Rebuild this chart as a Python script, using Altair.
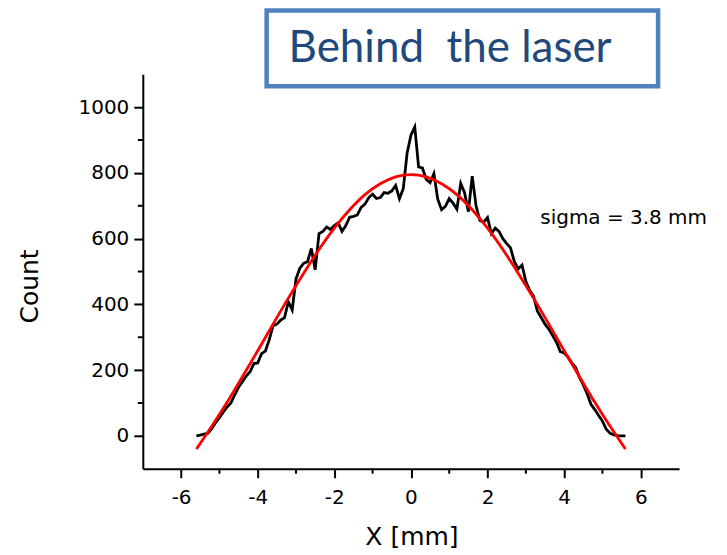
import altair as alt
import pandas as pd

# Measured profile (black)
black_x = [-5.6, -5.5, -5.4, -5.3, -5.2, -5.1, -5.0, -4.9, -4.8, -4.7, -4.6, -4.5, -4.4, -4.3, -4.2, -4.1,
           -4.0, -3.9, -3.8, -3.7, -3.6, -3.5, -3.4, -3.3, -3.2, -3.1, -3.0, -2.9, -2.8, -2.7, -2.6, -2.5,
           -2.4, -2.3, -2.2, -2.1, -2.0, -1.9, -1.8, -1.7, -1.6, -1.5, -1.4, -1.3, -1.2, -1.1, -1.0, -0.9,
           -0.8, -0.7, -0.6, -0.5, -0.4, -0.3, -0.2, -0.1, 0.0, 0.1, 0.2, 0.3, 0.4, 0.5, 0.6, 0.7, 0.8,
           0.9, 1.0, 1.1, 1.2, 1.3, 1.4, 1.5, 1.6, 1.7, 1.8, 1.9, 2.0, 2.1, 2.2, 2.3, 2.4, 2.5, 2.6, 2.7,
           2.8, 2.9, 3.0, 3.1, 3.2, 3.3, 3.4, 3.5, 3.6, 3.7, 3.8, 3.9, 4.0, 4.1, 4.2, 4.3, 4.4, 4.5, 4.6,
           4.7, 4.8, 4.9, 5.0, 5.1, 5.2, 5.3, 5.4, 5.5, 5.6]
black_y = [0, 2, 5, 8, 22, 40, 55, 72, 88, 100, 125, 148, 165, 182, 195, 220,
           222, 250, 258, 292, 335, 340, 352, 360, 408, 383, 478, 510, 525, 530, 570, 505,
           615, 622, 635, 628, 640, 648, 622, 640, 665, 668, 672, 695, 705, 725, 735, 722,
           725, 740, 738, 745, 762, 722, 752, 860, 915, 940, 818, 815, 780, 770, 798, 720, 688,
           698, 722, 708, 690, 768, 740, 682, 790, 700, 655, 650, 664, 615, 632, 622, 600, 585, 572, 530,
           508, 520, 470, 442, 425, 380, 360, 340, 325, 305, 285, 256, 252, 240, 222, 208, 178, 155, 128,
           96, 80, 62, 45, 20, 8, 3, 1, 0, 0]

# Fitted curve (red)
red_x = [-5.6, -5.2, -4.8, -4.4, -4.0, -3.6, -3.2, -2.8, -2.4, -2.0, -1.6, -1.2, -0.8, -0.4, 0.0,
         0.4, 0.8, 1.2, 1.6, 2.0, 2.4, 2.8, 3.2, 3.6, 4.0, 4.4, 4.8, 5.2, 5.6]
red_y = [-40, 29, 102, 180, 259, 340, 419, 495, 567, 632, 688, 734, 767, 788, 795,
         788, 767, 734, 688, 632, 567, 495, 419, 340, 259, 180, 102, 29, -40]

x_major = [-6, -4, -2, 0, 2, 4, 6]
x_minor = [-5, -3, -1, 1, 3, 5]
y_major = [0, 200, 400, 600, 800, 1000]
y_minor = [100, 300, 500, 700, 900]

title_text = ["Behind\u00a0 the laser"]
note_text = ["sigma = 3.8 mm"]

W, H = 537, 395
xs = alt.Scale(domain=[-7, 7], nice=False, zero=False)
ys = alt.Scale(domain=[-100, 1100], nice=False, zero=False)

df_black = pd.DataFrame({"x": black_x, "y": black_y})
df_red = pd.DataFrame({"x": red_x, "y": red_y})

black = alt.Chart(df_black).mark_line(color="black", strokeWidth=2.8, clip=False).encode(
    x=alt.X("x:Q", scale=xs, axis=alt.Axis(
        values=x_major, title="X [mm]", titleX=269, titleY=68, titleBaseline="middle",
        labelPadding=10, format="d", labelExpr="replace(datum.label, '\u2212', '-')")),
    y=alt.Y("y:Q", scale=ys, axis=alt.Axis(
        values=y_major, title="Count", titleX=-113, titleY=212, titleBaseline="middle",
        titleAngle=-90, labelPadding=5, format="d")),
)

red = alt.Chart(df_red).mark_line(color="#ff0000", strokeWidth=2.8, interpolate="monotone").encode(
    x=alt.X("x:Q", scale=xs), y=alt.Y("y:Q", scale=ys)
)

minor_x = alt.Chart(pd.DataFrame({"v": x_minor})).mark_rule(color="black", strokeWidth=2).encode(
    x=alt.X("v:Q", scale=xs), y=alt.value(H), y2=alt.value(H + 5)
)
minor_y = alt.Chart(pd.DataFrame({"v": y_minor})).mark_rule(color="black", strokeWidth=2).encode(
    y=alt.Y("v:Q", scale=ys), x=alt.value(0), x2=alt.value(-5)
)

box = alt.Chart(pd.DataFrame({"t": title_text})).mark_rect(
    fill="white", stroke="#4f81bd", strokeWidth=4.5
).encode(x=alt.value(124), x2=alt.value(516), y=alt.value(-64), y2=alt.value(12))

title = alt.Chart(pd.DataFrame({"t": title_text})).mark_text(
    font="Lato", fontSize=44, color="#1f497d", align="left", baseline="alphabetic"
).encode(x=alt.value(146), y=alt.value(-12), text="t:N")

note = alt.Chart(pd.DataFrame({"t": note_text})).mark_text(
    font="DejaVu Sans", fontSize=20, color="black", align="left", baseline="middle"
).encode(x=alt.value(398), y=alt.value(144), text="t:N")

chart = alt.layer(black, red, minor_x, minor_y, box, title, note).properties(
    width=W, height=H,
    autosize=alt.AutoSizeParams(type="none"),
    padding={"left": 135, "top": 66, "right": 40, "bottom": 86},
).configure_view(stroke=None).configure_axis(
    domainColor="black", domainWidth=2, tickColor="black", tickWidth=2, tickSize=9,
    labelFont="DejaVu Sans", labelFontSize=20, labelColor="black",
    titleFont="DejaVu Sans", titleFontSize=25, titleFontWeight="normal", titleColor="black",
    grid=False,
)

chart.save("out.html", embed_options={"renderer": "svg", "actions": False})
